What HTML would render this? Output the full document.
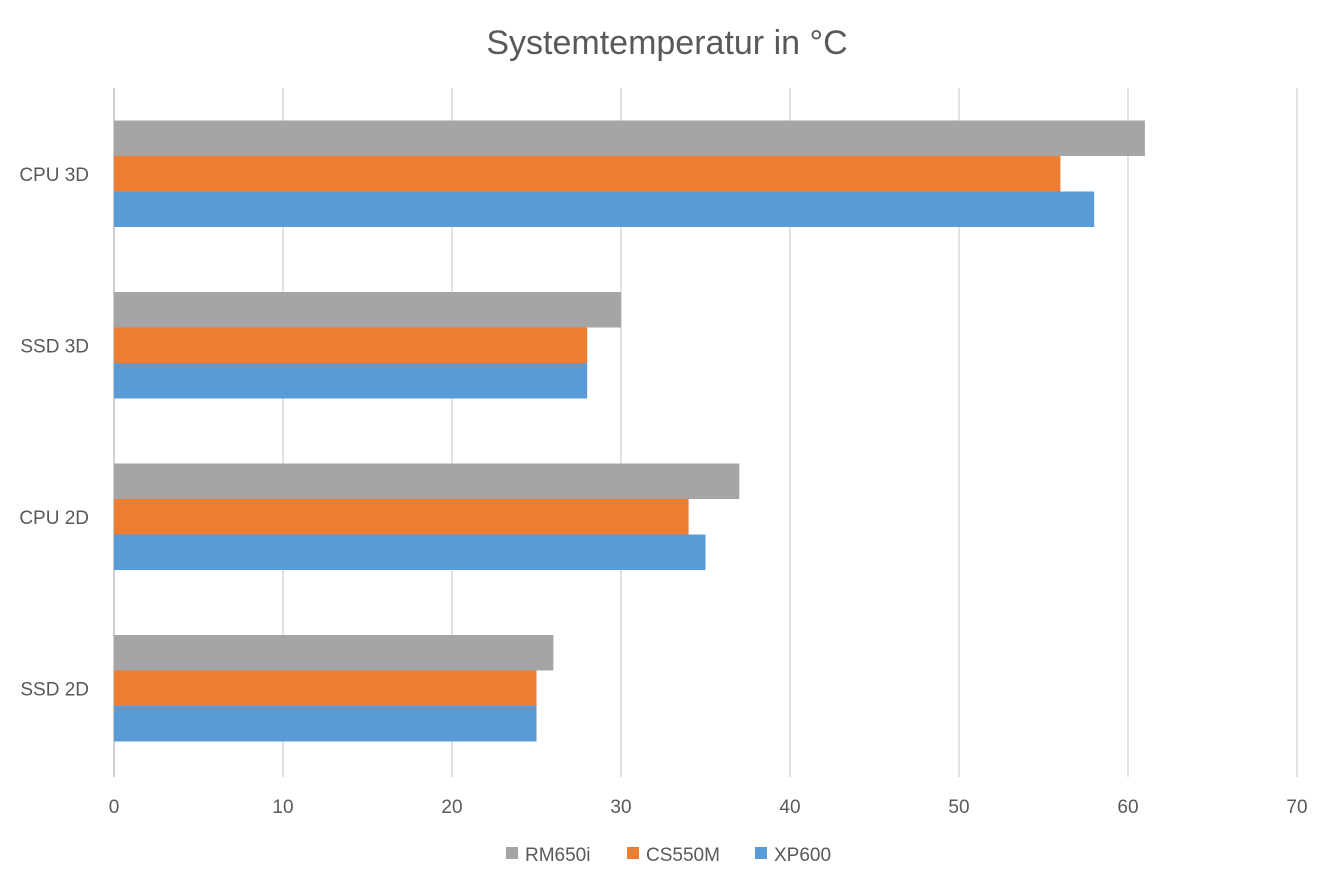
<!DOCTYPE html>
<html><head><meta charset="utf-8"><style>
body{margin:0;background:#fff}
svg{display:block;font-family:"Liberation Sans",sans-serif}
</style></head><body>
<svg id="chart" width="1334" height="889">
<text x="667" y="54" text-anchor="middle" font-size="34" fill="#595959">Systemtemperatur in °C</text>
<g id="grid"></g>
<g id="bars"></g>
<g id="labels"></g>
<g id="legend"></g>
</svg>
<script>
const categories = ["CPU 3D","SSD 3D","CPU 2D","SSD 2D"];
const seriesNames = ["RM650i","CS550M","XP600"];
const rm650i = [61,30,37,26];
const cs550m = [56,28,34,25];
const xp600 = [58,28,35,25];
const xTicks = [0,10,20,30,40,50,60,70];
const colors = ["#a5a5a5","#ed7d31","#5b9bd5"];
const series = [rm650i, cs550m, xp600];
const NS="http://www.w3.org/2000/svg";
const x0=114, x1=1297, xMax=70, yTop=88, yBot=774;
const xs=v=>x0+(x1-x0)*v/xMax;
const band=(yBot-yTop)/categories.length;
const barH=35.5;
function mk(t,a,p){const e=document.createElementNS(NS,t);for(const k in a)e.setAttribute(k,a[k]);p.appendChild(e);return e;}
const grid=document.getElementById('grid'),bars=document.getElementById('bars'),labels=document.getElementById('labels'),legend=document.getElementById('legend');
xTicks.forEach(t=>{
  const l=mk('line',{x1:xs(t),x2:xs(t),y1:yTop,y2:yBot+3,stroke:t===0?'#bfbfbf':'#d9d9d9','stroke-width':1.5},grid);
  
  
  const tx=mk('text',{x:xs(t),y:813,'text-anchor':'middle','font-size':19,fill:'#595959'},labels);
  tx.textContent=t;
  
  
});
categories.forEach((c,i)=>{
  const cy=yTop+band*(i+0.5);
  const tx=mk('text',{x:89,y:cy+7,'text-anchor':'end','font-size':19,fill:'#595959'},labels);
  tx.textContent=c;
  
  
  series.forEach((s,j)=>{
    const r=mk('rect',{x:x0,y:cy-barH*1.5+barH*j,width:xs(s[i])-x0,height:barH,fill:colors[j]},bars);
    
    
  });
});
const lx=[506,627,755];
seriesNames.forEach((n,j)=>{
  const r=mk('rect',{x:lx[j],y:847,width:12,height:12,fill:colors[j]},legend);
  
  
  const t=mk('text',{x:lx[j]+19,y:861,'font-size':19,fill:'#595959'},legend);
  t.textContent=n;
  
  
});
</script>
</body></html>
